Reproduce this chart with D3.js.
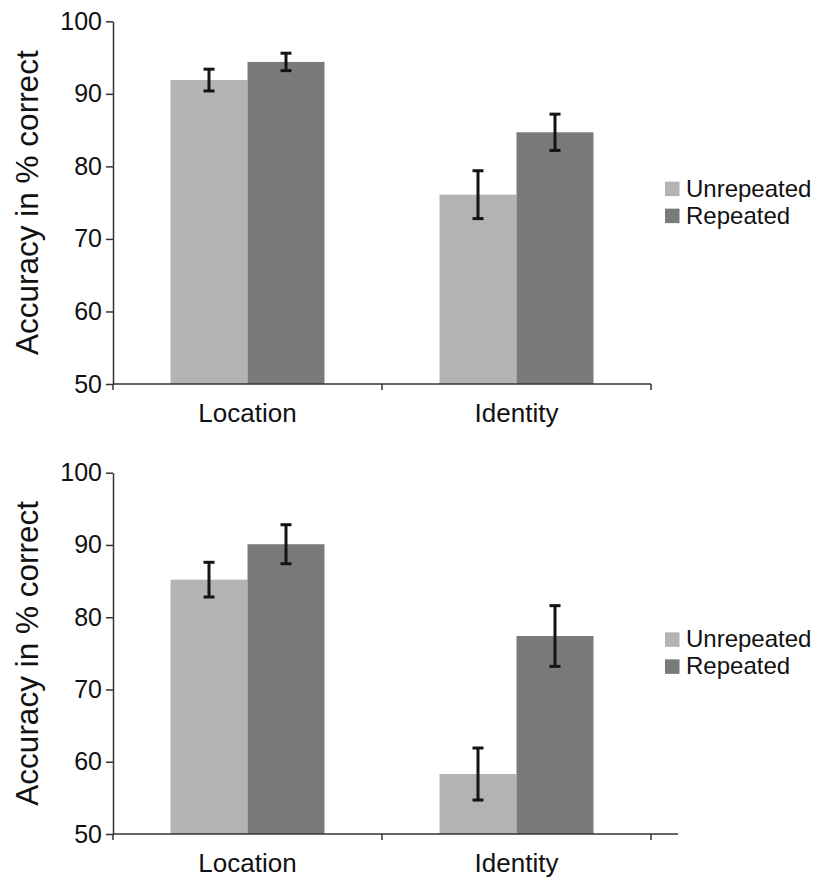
<!DOCTYPE html>
<html>
<head>
<meta charset="utf-8">
<script src="https://d3js.org/d3.v7.min.js"></script>
<style>
  body { margin: 0; background: #fff; }
  svg { display: block; }
  svg text { font-family: "Liberation Sans", Arial, Helvetica, sans-serif; }
</style>
</head>
<body>
<svg width="827" height="878"></svg>
<script>
// data
const categories = ["Location", "Identity"];
const seriesNames = ["Unrepeated", "Repeated"];
const seriesColors = ["#b3b3b3", "#7a7a7a"];
const yTicks = [50, 60, 70, 80, 90, 100];

// top panel
const topUnrepeated = [91.9, 76.1];
const topRepeated = [94.4, 84.7];
const topUnrepeatedErr = [1.5, 3.3];
const topRepeatedErr = [1.2, 2.5];

// bottom panel
const bottomUnrepeated = [85.2, 58.3];
const bottomRepeated = [90.1, 77.4];
const bottomUnrepeatedErr = [2.4, 3.6];
const bottomRepeatedErr = [2.7, 4.2];

var svg = d3.select("svg");

function panel(top, bottom, unrep, rep, unrepErr, repErr, axisEnd) {
  var left = 113, right = 651;

  var x0 = d3.scaleBand().domain(categories).range([left, right]).padding(0);
  var x1 = d3.scaleBand().domain(seriesNames).range([0, x0.bandwidth()])
    .paddingInner(0).paddingOuter(0.747);
  var y = d3.scaleLinear().domain([50, 100]).range([bottom, top]);

  var rows = [];
  categories.forEach(function(c, i) {
    rows.push({ cat: c, s: seriesNames[0], v: unrep[i], e: unrepErr[i], col: seriesColors[0] });
    rows.push({ cat: c, s: seriesNames[1], v: rep[i], e: repErr[i], col: seriesColors[1] });
  });

  var g = svg.append("g");

  // bars
  g.selectAll("rect.bar").data(rows).enter().append("rect")
    .attr("class", "bar")
    .attr("x", function(d) { return x0(d.cat) + x1(d.s); })
    .attr("width", x1.bandwidth())
    .attr("y", function(d) { return y(d.v); })
    .attr("height", function(d) { return y(50) - y(d.v); })
    .attr("fill", function(d) { return d.col; });

  // error bars
  var eb = g.selectAll("g.err").data(rows).enter().append("g").attr("class", "err")
    .attr("stroke", "#141414").attr("stroke-width", 3);
  function cx(d) { return x0(d.cat) + x1(d.s) + x1.bandwidth() / 2; }
  eb.append("line")
    .attr("x1", cx).attr("x2", cx)
    .attr("y1", function(d) { return y(d.v + d.e); })
    .attr("y2", function(d) { return y(d.v - d.e); });
  eb.append("line")
    .attr("x1", function(d) { return cx(d) - 5.5; }).attr("x2", function(d) { return cx(d) + 5.5; })
    .attr("y1", function(d) { return y(d.v + d.e); })
    .attr("y2", function(d) { return y(d.v + d.e); });
  eb.append("line")
    .attr("x1", function(d) { return cx(d) - 5.5; }).attr("x2", function(d) { return cx(d) + 5.5; })
    .attr("y1", function(d) { return y(d.v - d.e); })
    .attr("y2", function(d) { return y(d.v - d.e); });

  // y axis
  var yAxis = g.append("g")
    .attr("transform", "translate(" + left + ",0)")
    .call(d3.axisLeft(y).tickValues(yTicks).tickSize(7).tickSizeOuter(0).tickPadding(4));
  yAxis.attr("font-family", null);
  yAxis.selectAll("path, line").attr("stroke", "#333").attr("stroke-width", 1.5);
  yAxis.selectAll("text").attr("font-size", 25).attr("fill", "#111");

  // x axis: ticks at the category boundaries
  var bounds = [left].concat(categories.map(function(c) { return x0(c) + x0.bandwidth(); }));
  g.append("line")
    .attr("x1", left).attr("x2", axisEnd)
    .attr("y1", bottom).attr("y2", bottom)
    .attr("stroke", "#333").attr("stroke-width", 1.5);
  g.selectAll("line.xt").data(bounds).enter().append("line")
    .attr("class", "xt")
    .attr("x1", function(d) { return d; }).attr("x2", function(d) { return d; })
    .attr("y1", bottom).attr("y2", bottom + 6)
    .attr("stroke", "#333").attr("stroke-width", 1.5);
  g.selectAll("text.cat").data(categories).enter().append("text")
    .attr("class", "cat")
    .attr("x", function(c) { return x0(c) + x0.bandwidth() / 2; })
    .attr("y", bottom + 38)
    .attr("text-anchor", "middle")
    .attr("font-size", 26).attr("fill", "#111")
    .text(function(c) { return c; });

  // y label
  g.append("text")
    .attr("transform", "translate(38," + ((top + bottom) / 2) + ") rotate(-90)")
    .attr("text-anchor", "middle")
    .attr("font-size", 31.5).attr("fill", "#111")
    .text("Accuracy in % correct");

  // legend
  var cy = (top + bottom) / 2;
  var lg = g.selectAll("g.leg").data(seriesNames).enter().append("g").attr("class", "leg")
    .attr("transform", function(d, i) { return "translate(665," + (cy - 21 + i * 27) + ")"; });
  lg.append("rect").attr("width", 14.5).attr("height", 14.5)
    .attr("fill", function(d, i) { return seriesColors[i]; });
  lg.append("text").attr("x", 21).attr("y", 15)
    .attr("font-size", 24).attr("fill", "#111")
    .text(function(d) { return d; });
}

panel(21.3, 384, topUnrepeated, topRepeated, topUnrepeatedErr, topRepeatedErr, 651);
panel(472.7, 834, bottomUnrepeated, bottomRepeated, bottomUnrepeatedErr, bottomRepeatedErr, 678);
</script>
</body>
</html>
